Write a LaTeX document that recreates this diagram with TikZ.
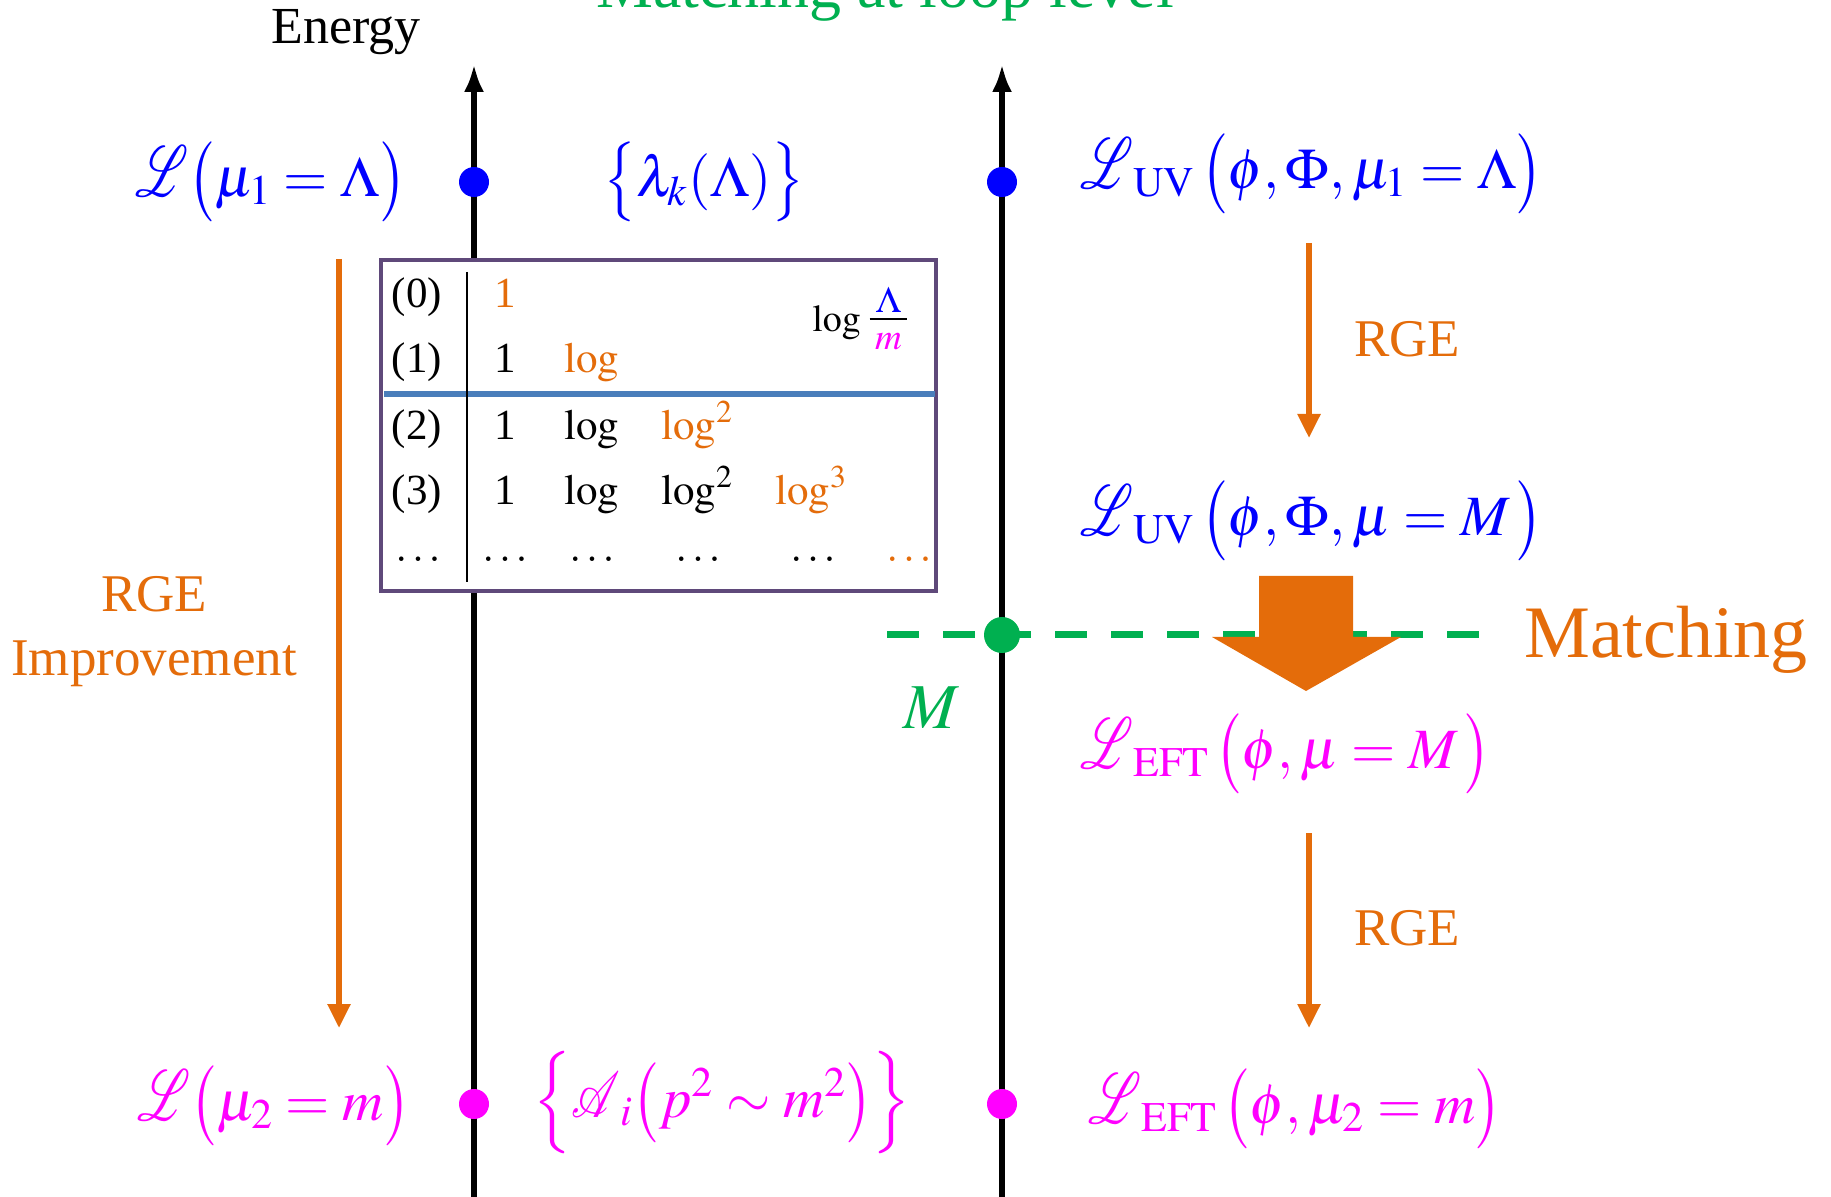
\documentclass[tikz,border=0pt]{standalone}
\usepackage{mathptmx}
\usepackage{mathrsfs}
\usepackage[no-math]{fontspec}
\setmainfont{Liberation Serif}
\usetikzlibrary{arrows.meta}
\definecolor{rgeorange}{RGB}{228,108,10}
\definecolor{matchgreen}{RGB}{0,176,80}
\definecolor{boxpurple}{RGB}{95,73,122}
\definecolor{sepblue}{RGB}{74,126,187}
\definecolor{lagblue}{RGB}{0,0,255}
\definecolor{lagmag}{RGB}{255,0,255}
\newcommand{\fsz}[2]{\fontsize{#1}{#2}\selectfont}
\newcommand{\lagL}{\hbox{\scalebox{1.0}[1.45]{$\mathscr{L}$}}}
\newcommand{\ampA}{\hbox{\scalebox{0.95}[1.3]{$\mathscr{A}$}}}
\newcommand{\tallpar}[2]{#1{\vcenter{\hbox{\scalebox{1}[1.17]{$\bigl#2$}}}}}
\newcommand{\lp}{\tallpar\mathopen(}
\newcommand{\rp}{\tallpar\mathclose)}
\newcommand{\lb}{\tallpar\mathopen\{}
\newcommand{\rb}{\tallpar\mathclose\}}

\begin{document}
\begin{tikzpicture}[x=0.5pt,y=-0.5pt,>=latex]
% ---- styles ----
\tikzstyle{axis}=[line width=3.2pt,-{Latex[length=14pt,width=10pt]}]
\tikzstyle{rge}=[draw=rgeorange,line width=2.8pt,-{Triangle[length=12pt,width=11pt]}]
\tikzstyle{lag}=[inner sep=0pt,font=\fsz{28.5}{34}]
\tikzstyle{dot}=[circle,inner sep=0pt,minimum size=15pt]
\tikzstyle{cell}=[inner sep=0pt,anchor=base,font=\fsz{21.5}{26}]
\tikzstyle{lbl}=[text=rgeorange,font=\fsz{26.5}{32}]

\useasboundingbox (0,0) rectangle (1831,1197);

% ---- title (cut at the top) ----
\node[font=\fsz{32}{38},text=matchgreen,anchor=base] (title) at (885,8) {Matching at loop level};

% ---- energy axes ----
\coordinate (Lbot) at (474,1200);
\coordinate (Ltop) at (474,64);
\coordinate (Rbot) at (1002,1200);
\coordinate (Rtop) at (1002,64);
\draw[axis] (Lbot) -- (Ltop);
\draw[axis] (Rbot) -- (Rtop);
\node[font=\fsz{26}{31},anchor=base] (energy) at (346,44) {Energy};

% ---- matching threshold ----
\coordinate (mL) at (887,635);
\coordinate (mR) at (1481,635);
\draw[matchgreen,line width=3.5pt,dash pattern=on 16pt off 12pt] (mL) -- (mR);
\node[dot,fill=matchgreen,minimum size=18pt] (gM) at (1002,635) {};
\node[text=matchgreen,font=\fsz{32}{38}] (Mlbl) at (931,708) {$M$};
\fill[rgeorange] (1259,576) -- (1353,576) -- (1353,637) -- (1401,637)
  -- (1306,691) -- (1212,637) -- (1259,637) -- cycle;
\node[text=rgeorange,font=\fsz{37}{44},anchor=base] (match) at (1666,657) {Matching};

% ---- log table (covers the left axis) ----
\node[draw=boxpurple,line width=2pt,fill=white,inner sep=0pt,
  minimum width=277.5pt,minimum height=165.5pt] (tbl) at (658.5,425.5) {};
\draw[sepblue,line width=3pt] (384,394) -- (935,394);
\draw[line width=1.2pt] (467,272) -- (467,582);

\node[cell] (r0) at (417,308) {(0)};
\node[cell] (r1) at (417,373) {(1)};
\node[cell] (r2) at (417,440) {(2)};
\node[cell] (r3) at (417,505) {(3)};

\node[cell,text=rgeorange] (a0) at (505,308) {1};
\node[cell] (a1) at (505,373) {1};
\node[cell,text=rgeorange] (b1) at (592,373) {$\log$};
\node[cell] (a2) at (505,440) {1};
\node[cell] (b2) at (592,440) {$\log$};
\node[cell,text=rgeorange] (c2) at (697,440) {$\log^2$};
\node[cell] (a3) at (505,505) {1};
\node[cell] (b3) at (592,505) {$\log$};
\node[cell] (c3) at (697,505) {$\log^2$};
\node[cell,text=rgeorange] (d3) at (811,505) {$\log^3$};

\node[cell,anchor=center] (e0) at (418,559) {$\ldots$};
\node[cell,anchor=center] (e1) at (505,559) {$\ldots$};
\node[cell,anchor=center] (e2) at (592,559) {$\ldots$};
\node[cell,anchor=center] (e3) at (698,559) {$\ldots$};
\node[cell,anchor=center] (e4) at (813,559) {$\ldots$};
\node[cell,anchor=center,text=rgeorange] (e5) at (909,559) {$\ldots$};

\node[inner sep=0pt,anchor=base,font=\fsz{19}{23}] (frac) at (861,332)
  {$\log$\,{\fsz{25}{30}$\frac{\mkern3mu\textcolor{lagblue}{\Lambda}\mkern3mu}{\textcolor{lagmag}{m}}$}};

% ---- scale points ----
\node[dot,fill=lagblue] (hiL) at (474,182) {};
\node[dot,fill=lagblue] (hiR) at (1002,182) {};
\node[dot,fill=lagmag] (loL) at (474,1104) {};
\node[dot,fill=lagmag] (loR) at (1002,1104) {};

% ---- Lagrangians ----
\node[lag,text=lagblue] (Lhi) at (271,182) {$\lagL\lp\mu_1=\Lambda\rp$};
\node[lag,text=lagblue] (lamk) at (704,182) {$\lb\lambda_k(\Lambda)\rb$};
\node[lag,text=lagblue,anchor=west] (uvhi) at (1080,174)
  {$\lagL_{\mathrm{UV}}\,\lp\phi,\Phi,\mu_1=\Lambda\rp$};
\node[lag,text=lagblue,anchor=west] (uvM) at (1080,521)
  {$\lagL_{\mathrm{UV}}\,\lp\phi,\Phi,\mu=M\,\rp$};
\node[lag,text=lagmag,anchor=west] (eftM) at (1080,754)
  {$\lagL_{\mathrm{EFT}}\,\lp\phi,\mu=M\,\rp$};
\node[lag,text=lagmag] (Llo) at (274,1106) {$\lagL\lp\mu_2=m\rp$};
\node[lag,text=lagmag] (amp) at (722,1103)
  {$\Bigl\{\ampA_i\lp p^2\sim m^2\rp\Bigr\}$};
\node[lag,text=lagmag,anchor=west] (eftlo) at (1088,1109)
  {$\lagL_{\mathrm{EFT}}\,\lp\phi,\mu_2=m\rp$};

% ---- running arrows ----
\coordinate (rgeLs) at (339,259);
\coordinate (rgeLe) at (339,1028);
\coordinate (rgeAs) at (1309,243);
\coordinate (rgeAe) at (1309,438);
\coordinate (rgeBs) at (1309,833);
\coordinate (rgeBe) at (1309,1028);
\draw[rge] (rgeLs) -- (rgeLe);
\draw[rge] (rgeAs) -- (rgeAe);
\draw[rge] (rgeBs) -- (rgeBe);
\node[lbl,align=center] (rgeimp) at (154,632) {RGE\\Improvement};
\node[lbl] (rge1) at (1407,339) {RGE};
\node[lbl] (rge2) at (1407,928) {RGE};

\end{tikzpicture}
\end{document}
